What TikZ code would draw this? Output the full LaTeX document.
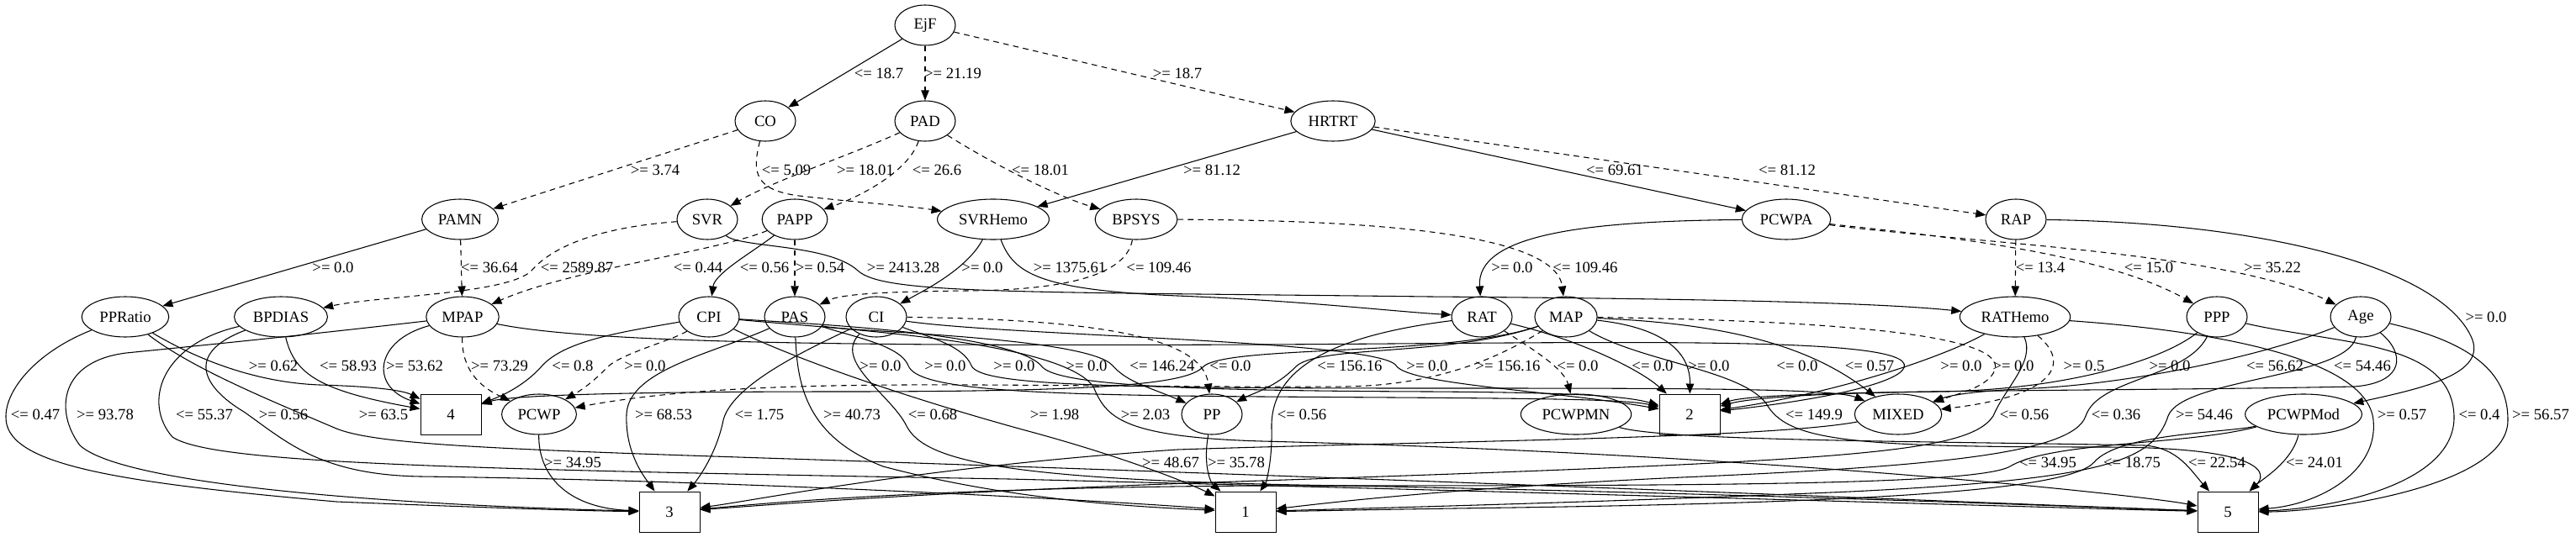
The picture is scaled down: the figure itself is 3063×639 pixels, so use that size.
\documentclass[tikz,border=0pt]{standalone}
\usepackage{fontspec}
\setmainfont{Liberation Serif}
\usetikzlibrary{shapes.geometric, arrows.meta, positioning}

\tikzset{
  feat/.style={draw, ellipse, line width=0.8pt, minimum width=54pt, minimum height=36pt, inner xsep=4.5pt, inner ysep=0pt, font=\fontsize{14}{16}\selectfont},
  leaf/.style={draw, rectangle, line width=0.7pt, minimum width=54pt, minimum height=36pt, inner sep=0pt, font=\fontsize{14}{16}\selectfont},
  lbl/.style={inner sep=0pt, font=\fontsize{14}{16}\selectfont},
  link/.style={line width=0.8pt, -{Triangle[length=9pt, width=7pt]}},
  dlink/.style={link, dash pattern=on 5pt off 4pt}
}

\begin{document}
\begin{tikzpicture}[x=0.75pt, y=0.75pt]
\useasboundingbox (0,0) rectangle (3063,-639);

% split nodes
\node[feat] (EjF) at (1100,-30) {EjF};
\node[feat] (CO) at (910,-144) {CO};
\node[feat] (PAD) at (1100,-144) {PAD};
\node[feat] (HRTRT) at (1585,-144) {HRTRT};
\node[feat] (PAMN) at (547,-261) {PAMN};
\node[feat] (SVR) at (841,-261) {SVR};
\node[feat] (PAPP) at (945,-261) {PAPP};
\node[feat] (SVRHemo) at (1181,-261) {SVRHemo};
\node[feat] (BPSYS) at (1351,-261) {BPSYS};
\node[feat] (PCWPA) at (2124,-261) {PCWPA};
\node[feat] (RAP) at (2397,-261) {RAP};
\node[feat] (PPRatio) at (149,-377) {PPRatio};
\node[feat] (BPDIAS) at (334,-377) {BPDIAS};
\node[feat] (MPAP) at (550,-377) {MPAP};
\node[feat] (CPI) at (843,-377) {CPI};
\node[feat] (PAS) at (945,-377) {PAS};
\node[feat] (CI) at (1042,-377) {CI};
\node[feat] (RAT) at (1762,-377) {RAT};
\node[feat] (MAP) at (1862,-377) {MAP};
\node[feat] (RATHemo) at (2396,-377) {RATHemo};
\node[feat] (PPP) at (2636,-377) {PPP};
\node[feat] (Age) at (2807,-377) {Age};
\node[feat] (PCWP) at (641,-493) {PCWP};
\node[feat] (PP) at (1441,-493) {PP};
\node[feat] (PCWPMN) at (1874,-493) {PCWPMN};
\node[feat] (MIXED) at (2257,-493) {MIXED};
\node[feat] (PCWPMod) at (2739,-493) {PCWPMod};

% leaves
\node[leaf] (box4) at (536,-493) {4};
\node[leaf] (box2) at (2009,-493) {2};
\node[leaf] (box3) at (796,-609) {3};
\node[leaf] (box1) at (1481,-609) {1};
\node[leaf] (box5) at (2649,-609) {5};

% edge labels
\foreach \n/\x/\y/\lb in {t1/1045/87/<= 18.7, t2/1133/87/>= 21.19, t3/1400/87/>= 18.7,
    u1/779/202/>= 3.74, u2/935/202/<= 5.09, u3/1029/202/>= 18.01, u4/1114/202/<= 26.6,
    u5/1237/202/<= 18.01, u6/1441/202/>= 81.12, u7/1920/202/<= 69.61, u8/2125/202/<= 81.12,
    v1/396/318/>= 0.0, v2/582/318/<= 36.64, v3/686/318/<= 2589.87, v4/830/318/<= 0.44,
    v5/909/318/<= 0.56, v6/975/318/>= 0.54, v7/1074/318/>= 2413.28, v8/1168/318/>= 0.0,
    v9/1272/318/>= 1375.61, v10/1378/318/<= 109.46, v11/1798/318/>= 0.0, v12/1885/318/<= 109.46,
    v13/2426/318/<= 13.4, v14/2555/318/<= 15.0, v15/2702/318/>= 35.22, w1/2956/377/>= 0.0}
  \node[lbl] (\n) at (\x,-\y) {\lb};
\foreach \n/\x/\lb in {a1/325/>= 0.62, a2/414/<= 58.93, a3/493/>= 53.62, a4/594/>= 73.29,
    a5/681/<= 0.8, a6/767/>= 0.0, a7/1047/>= 0.0, a8/1124/>= 0.0, a9/1206/>= 0.0,
    a10/1292/>= 0.0, a11/1382/<= 146.24, a12/1463/<= 0.0, a13/1605/<= 156.16, a14/1697/>= 0.0,
    a15/1793/>= 156.16, a16/1876/<= 0.0, a17/1965/<= 0.0, a18/2032/>= 0.0, a19/2137/<= 0.0,
    a20/2223/<= 0.57, a21/2332/>= 0.0, a22/2394/>= 0.0, a23/2478/>= 0.5, a24/2580/>= 0.0,
    a25/2705/<= 56.62, a26/2809/<= 54.46}
  \node[lbl] (\n) at (\x,-435) {\lb};
\foreach \n/\x/\lb in {b1/42/<= 0.47, b2/125/>= 93.78, b3/243/<= 55.37, b4/337/>= 0.56,
    b5/456/>= 63.5, b6/789/>= 68.53, b7/903/<= 1.75, b8/1013/>= 40.73, b9/1109/<= 0.68,
    b10/1254/>= 1.98, b11/1362/>= 2.03, b12/1548/<= 0.56, b13/2157/<= 149.9, b14/2407/<= 0.56,
    b15/2516/<= 0.36, b16/2621/>= 54.46, b17/2856/>= 0.57, b18/2948/<= 0.4, b19/3021/>= 56.57}
  \node[lbl] (\n) at (\x,-493) {\lb};
\foreach \n/\x/\lb in {c1/681/>= 34.95, c2/1392/>= 48.67, c3/1470/>= 35.78, c4/2435/<= 34.95,
    c5/2535/<= 18.75, c6/2636/<= 22.54, c7/2752/<= 24.01}
  \node[lbl] (\n) at (\x,-550) {\lb};

% upper splits
\draw[link] (EjF) -- (CO);
\draw[dlink] (EjF) -- (PAD);
\draw[dlink] (EjF) -- (HRTRT);
\draw[dlink] (CO) -- (PAMN);
\draw[dlink] (CO.255) .. controls (894,-205) and (897,-226) .. (950,-233) .. controls (1020,-241) and (1080,-245) .. (SVRHemo);
\draw[dlink] (PAD) .. controls (1010,-185) and (920,-215) .. (SVR);
\draw[dlink] (PAD) .. controls (1080,-205) and (1020,-235) .. (PAPP);
\draw[dlink] (PAD) .. controls (1180,-195) and (1260,-235) .. (BPSYS);
\draw[link] (HRTRT) -- (SVRHemo);
\draw[link] (HRTRT) -- (PCWPA);
\draw[dlink] (HRTRT) -- (RAP);
\draw[link] (PAMN) -- (PPRatio);
\draw[dlink] (PAMN) -- (MPAP);
\draw[dlink] (SVR) .. controls (720,-270) and (660,-290) .. (632,-322) .. controls (605,-350) and (450,-352) .. (BPDIAS);
\draw[link] (SVR) .. controls (880,-295) and (985,-290) .. (1020,-322) .. controls (1050,-350) and (1200,-347) .. (1700,-353) .. controls (2100,-356) and (2250,-362) .. (RATHemo);
\draw[dlink] (PAPP) .. controls (850,-300) and (680,-320) .. (MPAP);
\draw[link] (PAPP) .. controls (895,-300) and (850,-325) .. (CPI);
\draw[dlink] (PAPP) -- (PAS);
\draw[link] (SVRHemo) .. controls (1150,-320) and (1100,-345) .. (CI);
\draw[link] (SVRHemo) .. controls (1205,-325) and (1235,-345) .. (1400,-352) .. controls (1550,-358) and (1650,-370) .. (RAT);
\draw[dlink] (BPSYS) .. controls (1340,-320) and (1290,-345) .. (1150,-346) .. controls (1050,-347) and (1000,-350) .. (PAS);
\draw[dlink] (BPSYS) .. controls (1650,-262) and (1850,-280) .. (MAP);
\draw[link] (PCWPA) .. controls (1880,-263) and (1755,-280) .. (RAT);
\draw[dlink] (RAP) -- (RATHemo);
\draw[dlink] (PCWPA) .. controls (2300,-280) and (2500,-300) .. (PPP);
\draw[dlink] (PCWPA) .. controls (2350,-290) and (2650,-300) .. (Age);
\draw[link] (RAP) .. controls (2700,-265) and (2900,-320) .. (2938,-400) .. controls (2960,-445) and (2880,-462) .. (PCWPMod);

% rank 3 to rank 4
\draw[link] (PPRatio) .. controls (230,-425) and (300,-455) .. (380,-458) .. controls (450,-460) and (480,-465) .. (box4);
\draw[link] (BPDIAS) .. controls (350,-445) and (380,-465) .. (box4);
\draw[link] (MPAP) .. controls (445,-405) and (440,-460) .. (box4);
\draw[dlink] (MPAP) .. controls (549,-440) and (570,-460) .. (PCWP);
\draw[link] (CPI) .. controls (740,-395) and (670,-405) .. (643,-437) .. controls (625,-457) and (600,-470) .. (box4);
\draw[dlink] (CPI) .. controls (800,-405) and (740,-420) .. (722,-437) .. controls (705,-455) and (690,-465) .. (PCWP);
\draw[link] (PAS) .. controls (1010,-400) and (1070,-410) .. (1080,-435) .. controls (1090,-462) and (1200,-470) .. (1500,-472) .. controls (1800,-474) and (1930,-474) .. (box2);
\draw[link] (CI) .. controls (1100,-400) and (1145,-410) .. (1155,-435) .. controls (1165,-458) and (1300,-462) .. (1700,-462) .. controls (2000,-462) and (2180,-462) .. (MIXED);
\draw[link] (CPI) .. controls (950,-385) and (1200,-395) .. (1238,-435) .. controls (1252,-458) and (1400,-465) .. (1700,-466) .. controls (1850,-467) and (1930,-470) .. (box2);
\draw[link] (PAS) .. controls (1000,-395) and (1292,-400) .. (1323,-435) .. controls (1340,-455) and (1370,-462) .. (PP);
\draw[link] (MAP) .. controls (1720,-425) and (1455,-410) .. (1430,-437) .. controls (1410,-458) and (1300,-466) .. (1000,-466) .. controls (700,-466) and (600,-472) .. (box4);
\draw[dlink] (CI) .. controls (1300,-380) and (1430,-400) .. (PP);
\draw[link] (MAP) .. controls (1720,-425) and (1565,-410) .. (1540,-437) .. controls (1518,-460) and (1490,-468) .. (PP);
\draw[link] (CI) .. controls (1200,-400) and (1640,-405) .. (1660,-435) .. controls (1675,-458) and (1850,-465) .. (box2);
\draw[dlink] (MAP) .. controls (1790,-420) and (1720,-458) .. (1600,-460) .. controls (1200,-462) and (900,-445) .. (PCWP);
\draw[dlink] (RAT) .. controls (1830,-420) and (1860,-440) .. (PCWPMN);
\draw[link] (RAT) .. controls (1880,-405) and (1950,-440) .. (box2);
\draw[link] (MAP) .. controls (1980,-390) and (2010,-420) .. (box2);
\draw[link] (MAP) .. controls (2050,-385) and (2150,-410) .. (MIXED);
\draw[link] (MPAP) .. controls (700,-408) and (1000,-412) .. (1500,-410) .. controls (1900,-408) and (2230,-400) .. (2262,-430) .. controls (2280,-448) and (2200,-472) .. (box2);
\draw[link] (RATHemo) .. controls (2320,-420) and (2200,-465) .. (box2);
\draw[dlink] (MAP) .. controls (2200,-382) and (2385,-400) .. (2372,-440) .. controls (2365,-460) and (2330,-468) .. (MIXED);
\draw[dlink] (RATHemo) .. controls (2460,-430) and (2450,-470) .. (MIXED);
\draw[link] (PPP) .. controls (2570,-430) and (2450,-465) .. (2300,-466) .. controls (2150,-468) and (2080,-474) .. (box2);
\draw[link] (Age) .. controls (2700,-420) and (2550,-455) .. (2420,-462) .. controls (2350,-465) and (2320,-470) .. (MIXED);
\draw[link] (Age) .. controls (2860,-420) and (2860,-455) .. (2800,-460) .. controls (2500,-466) and (2100,-463) .. (box2);

% rank 3 to rank 5
\draw[link] (PPRatio) .. controls (40,-420) and (0,-470) .. (8,-505) .. controls (20,-555) and (150,-575) .. (400,-597) .. controls (600,-605) and (700,-608) .. (box3);
\draw[link] (MPAP) .. controls (350,-400) and (250,-410) .. (150,-420) .. controls (70,-430) and (65,-490) .. (95,-530) .. controls (150,-580) and (500,-602) .. (box3);
\draw[link] (BPDIAS) .. controls (190,-410) and (170,-480) .. (205,-520) .. controls (250,-550) and (500,-558) .. (1200,-570) .. controls (2000,-590) and (2500,-606) .. (box5);
\draw[link] (BPDIAS) .. controls (220,-420) and (240,-460) .. (290,-490) .. controls (340,-525) and (380,-565) .. (500,-567) .. controls (900,-572) and (1350,-598) .. (box1);
\draw[link] (PPRatio) .. controls (230,-440) and (330,-480) .. (400,-510) .. controls (450,-530) and (600,-535) .. (1000,-548) .. controls (1800,-575) and (2400,-600) .. (box5);
\draw[link] (PAS) .. controls (850,-420) and (747,-440) .. (745,-493) .. controls (743,-540) and (768,-570) .. (box3);
\draw[link] (CI) .. controls (950,-420) and (870,-460) .. (860,-500) .. controls (852,-540) and (830,-570) .. (box3);
\draw[link] (PAS) .. controls (948,-460) and (960,-520) .. (1050,-555) .. controls (1200,-595) and (1350,-603) .. (box1);
\draw[link] (CI) .. controls (990,-430) and (1060,-470) .. (1078,-507) .. controls (1100,-550) and (1200,-572) .. (1600,-578) .. controls (2100,-588) and (2500,-604) .. (box5);
\draw[link] (CPI) .. controls (950,-430) and (1100,-480) .. (1230,-515) .. controls (1350,-548) and (1420,-578) .. (box1);
\draw[link] (CPI) .. controls (1000,-392) and (1260,-405) .. (1300,-460) .. controls (1315,-495) and (1330,-520) .. (1500,-525) .. controls (2100,-540) and (2550,-590) .. (box5);
\draw[link] (RAT) .. controls (1580,-400) and (1510,-440) .. (1512,-510) .. controls (1513,-550) and (1505,-575) .. (box1);
\draw[link] (MAP) .. controls (1950,-430) and (2070,-440) .. (2100,-480) .. controls (2125,-525) and (2200,-532) .. (2500,-532) .. controls (2700,-532) and (2695,-565) .. (box5);
\draw[link] (RATHemo) .. controls (2420,-430) and (2385,-460) .. (2370,-495) .. controls (2340,-540) and (2200,-548) .. (1500,-572) .. controls (1100,-585) and (900,-602) .. (box3);
\draw[link] (PPP) .. controls (2600,-450) and (2495,-450) .. (2480,-495) .. controls (2465,-540) and (2300,-555) .. (2000,-568) .. controls (1700,-582) and (1550,-602) .. (box1);
\draw[link] (Age) .. controls (2790,-450) and (2595,-450) .. (2578,-495) .. controls (2560,-550) and (2500,-570) .. (2200,-585) .. controls (1900,-598) and (1580,-606) .. (box1);
\draw[link] (RATHemo) .. controls (2650,-395) and (2815,-430) .. (2822,-500) .. controls (2828,-560) and (2760,-600) .. (box5);
\draw[link] (PPP) .. controls (2780,-410) and (2915,-405) .. (2918,-495) .. controls (2920,-580) and (2760,-606) .. (box5);
\draw[link] (Age) .. controls (2950,-410) and (2982,-450) .. (2982,-500) .. controls (2982,-580) and (2760,-609) .. (box5);

% rank 4 to rank 5
\draw[link] (PCWP) .. controls (640,-570) and (680,-605) .. (box3);
\draw[link] (MIXED) .. controls (2100,-522) and (1700,-525) .. (1400,-535) .. controls (1100,-555) and (900,-595) .. (box3);
\draw[link] (PP) .. controls (1430,-555) and (1440,-575) .. (box1);
\draw[link] (PCWPMod) .. controls (2600,-530) and (2440,-525) .. (2390,-555) .. controls (2350,-578) and (2000,-578) .. (1500,-578) .. controls (1100,-580) and (900,-600) .. (box3);
\draw[link] (PCWPMod) .. controls (2650,-515) and (2520,-515) .. (2490,-550) .. controls (2460,-585) and (2200,-598) .. (1800,-604) .. controls (1650,-606) and (1560,-608) .. (box1);
\draw[link] (PCWPMN) .. controls (1980,-525) and (2300,-525) .. (2550,-530) .. controls (2590,-533) and (2605,-560) .. (box5);
\draw[link] (PCWPMod) .. controls (2725,-550) and (2690,-570) .. (box5);
\end{tikzpicture}
\end{document}
